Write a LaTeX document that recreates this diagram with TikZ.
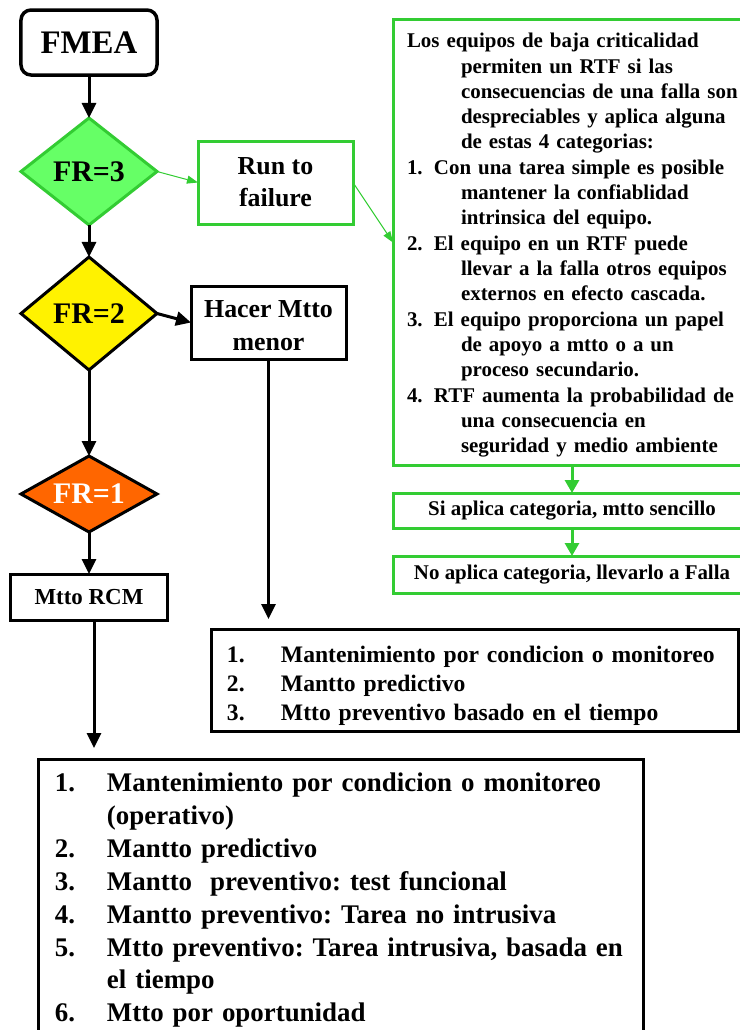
\documentclass[tikz,border=0pt]{standalone}
\usepackage{fontspec}
\setmainfont{Liberation Serif}
\usetikzlibrary{arrows.meta,shapes.geometric}

\definecolor{okgreen}{RGB}{51,204,51}
\definecolor{palegreen}{RGB}{102,255,102}
\definecolor{frorange}{RGB}{255,102,0}

% one line of a numbered list, and a continuation line with hanging indent
\newcommand{\numline}[3]{\mbox{\makebox[#1][l]{#2}#3}}
\newcommand{\contline}[2]{\mbox{\hspace*{#1}#2}}
\newcommand{\fsz}[2]{\fontsize{#1}{#2}\selectfont\bfseries\frenchspacing}

\begin{document}
\frenchspacing
\begin{tikzpicture}[x=1bp,y=-1bp,
  every node/.style={inner sep=0pt, outer sep=0pt},
  box/.style={draw, line width=3bp, align=center},
  gbox/.style={box, draw=okgreen},
  decision/.style={diamond, draw, line width=3bp, aspect=2,
    minimum width=136bp, font=\fsz{30}{34}},
  arr/.style={line width=3bp, -{Triangle[length=15bp,width=14bp]}},
  garr/.style={line width=3bp, okgreen, -{Triangle[length=13bp,width=14bp]}},
  thinarr/.style={line width=1bp, okgreen, -{Triangle[length=11bp,width=8bp]}},
]
\useasboundingbox (0,0) rectangle (740,1030);
\clip (0,0) rectangle (740,1030);

% left column
\node[box, rounded corners=10bp, line width=3.5bp, minimum width=136bp,
      minimum height=65bp, font=\fsz{33}{38}] (fmea) at (89,42.5) {FMEA};
\node[decision, draw=okgreen, fill=palegreen, minimum height=107bp]
      (fr3) at (89,171.5) {FR=3};
\node[decision, fill=yellow, minimum height=113bp]
      (fr2) at (89,313.5) {FR=2};
\node[decision, fill=frorange, text=white, minimum height=76bp]
      (fr1) at (89,494) {FR=1};
\node[box, minimum width=156bp, minimum height=46bp, font=\fsz{23}{27}]
      (rcm) at (89,597) {Mtto RCM};

% middle column
\node[gbox, minimum width=155bp, minimum height=83bp, font=\fsz{26}{32}]
      (run) at (275.5,182.5) {Run to\\failure};
\node[box, minimum width=155bp, minimum height=73bp, font=\fsz{26}{33}]
      (hacer) at (268.5,322.5) {\rule{0pt}{24bp}Hacer Mtto\\menor};

% run-to-failure criteria
\node[gbox, minimum width=358bp, minimum height=445bp, text width=330bp,
      align=left, font=\fsz{21}{25.4}] (crit) at (572,242.5) {%
\rule{0pt}{20bp}\mbox{Los equipos de baja criticalidad}\\
\contline{54bp}{permiten un RTF si las}\\
\contline{54bp}{consecuencias de una falla son}\\
\contline{54bp}{despreciables y aplica alguna}\\
\contline{54bp}{de estas 4 categorias:}\\
\numline{27bp}{1.}{Con una tarea simple es posible}\\
\contline{54bp}{mantener la confiablidad}\\
\contline{54bp}{intrinsica del equipo.}\\
\numline{27bp}{2.}{El equipo en un RTF puede}\\
\contline{54bp}{llevar a la falla otros equipos}\\
\contline{54bp}{externos en efecto cascada.}\\
\numline{27bp}{3.}{El equipo proporciona un papel}\\
\contline{54bp}{de apoyo a mtto o a un}\\
\contline{54bp}{proceso secundario.}\\
\numline{27bp}{4.}{RTF aumenta la probabilidad de}\\
\contline{54bp}{una consecuencia en}\\
\contline{54bp}{seguridad y medio ambiente}};
\node[gbox, minimum width=358bp, minimum height=35bp, font=\fsz{21}{24}]
      (yes) at (572,510.5) {Si aplica categoria, mtto sencillo};
\node[gbox, minimum width=358bp, minimum height=37bp, font=\fsz{21}{24}]
      (no) at (572,574.5) {No aplica categoria, llevarlo a Falla};

% maintenance lists
\node[box, anchor=north, minimum width=526bp, minimum height=102bp,
      text width=496bp, align=left, font=\fsz{23.7}{29}]
      (minor) at (475,629) {%
\rule{0pt}{28.5bp}\numline{54bp}{1.}{Mantenimiento por condicion o monitoreo}\\
\numline{54bp}{2.}{Mantto predictivo}\\
\numline{54bp}{3.}{Mtto preventivo basado en el tiempo}};
\node[box, anchor=north, minimum width=604bp, text width=572bp,
      inner ysep=14bp, align=left, font=\fsz{27}{33}]
      (rcmlist) at (341,759) {%
\numline{52bp}{1.}{Mantenimiento por condicion o monitoreo}\\
\contline{52bp}{(operativo)}\\
\numline{52bp}{2.}{Mantto predictivo}\\
\numline{52bp}{3.}{Mantto\ \ preventivo: test funcional}\\
\numline{52bp}{4.}{Mantto preventivo: Tarea no intrusiva}\\
\numline{52bp}{5.}{Mtto preventivo: Tarea intrusiva, basada en}\\
\contline{52bp}{el tiempo}\\
\numline{52bp}{6.}{Mtto por oportunidad}\rule[-40bp]{0pt}{0pt}};

% connectors
\draw[arr] (fmea) -- (fr3);
\draw[arr] (fr3) -- (fr2);
\draw[arr] (fr2) -- (fr1);
\draw[arr] (fr1) -- (rcm);
\draw[thinarr] (fr3.east) -- (run.west);
\draw[thinarr] (run.east) -- (crit.west);
\draw[arr] (fr2.east) -- (hacer.west);
\draw[arr, shorten >=10bp] (hacer.south) -- (hacer.south |- minor.north);
\draw[arr, shorten >=11bp] ([xshift=5bp]rcm.south) -- ([xshift=5bp]rcm.south |- rcmlist.north);
\draw[garr] (crit.south) -- (yes.north);
\draw[garr] (yes.south) -- (no.north);
\end{tikzpicture}
\end{document}
